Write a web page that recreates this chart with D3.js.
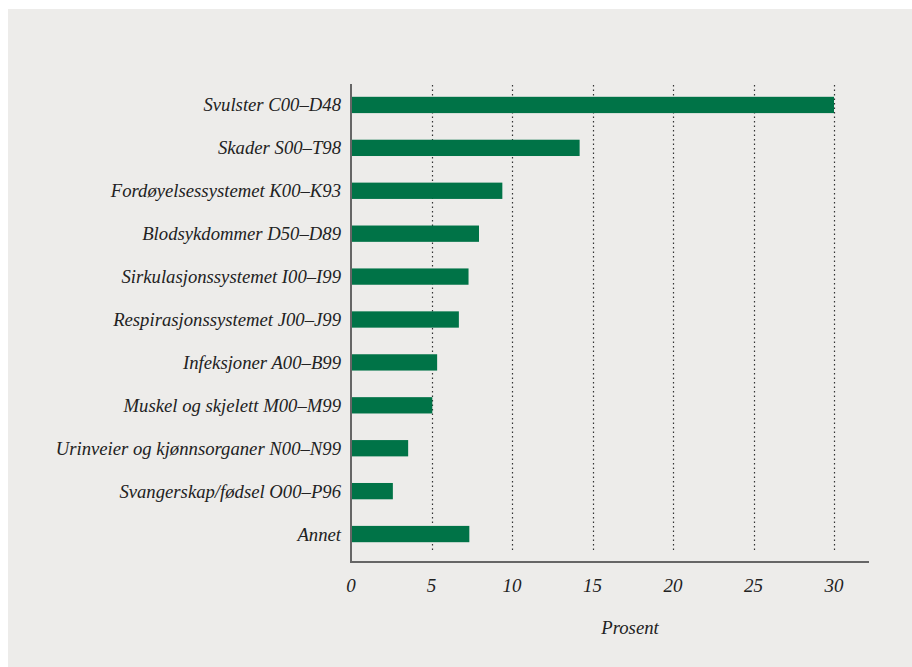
<!DOCTYPE html>
<html>
<head>
<meta charset="utf-8">
<script src="https://cdn.jsdelivr.net/npm/d3@7"></script>
<style>
  body { margin: 0; background: #ffffff; }
  svg text { font-family: "Liberation Serif", "DejaVu Serif", serif; font-style: italic; fill: #222; }
</style>
</head>
<body>
<svg id="chart" width="912" height="667"></svg>
<script>
// categories and values (percent)
const categories = [
  'Svulster C00–D48',
  'Skader S00–T98',
  'Fordøyelsessystemet K00–K93',
  'Blodsykdommer D50–D89',
  'Sirkulasjonssystemet I00–I99',
  'Respirasjonssystemet J00–J99',
  'Infeksjoner A00–B99',
  'Muskel og skjelett M00–M99',
  'Urinveier og kjønnsorganer N00–N99',
  'Svangerskap/fødsel O00–P96',
  'Annet'
];
const values = [30, 14.2, 9.4, 7.95, 7.3, 6.7, 5.35, 5.05, 3.55, 2.6, 7.35];
const xTicks = [0, 5, 10, 15, 20, 25, 30];
const xTitle = 'Prosent';

const svg = d3.select('svg#chart');

// panel background
svg.append('rect')
  .attr('x', 8)
  .attr('y', 9)
  .attr('width', 904)
  .attr('height', 658)
  .attr('fill', '#edecea');

const plotLeft = 351;
const plotTop = 84;
const plotBottom = 562;

const x = d3.scaleLinear().domain([0, 30]).range([plotLeft, 834]);
const y = d3.scaleBand().domain(categories).range([83.5, 555.5]).paddingInner(0.62).paddingOuter(0.31);

// dotted gridlines
svg.selectAll('line.grid')
  .data(xTicks.slice(1))
  .enter()
  .append('line')
  .attr('class', 'grid')
  .attr('x1', (d) => Math.round(x(d)) + 0.5)
  .attr('x2', (d) => Math.round(x(d)) + 0.5)
  .attr('y1', plotTop + 1)
  .attr('y2', 552)
  .attr('stroke', '#333')
  .attr('stroke-width', 1.2)
  .attr('stroke-dasharray', '1.5,3');

// bars
svg.selectAll('rect.bar')
  .data(values)
  .enter()
  .append('rect')
  .attr('class', 'bar')
  .attr('x', plotLeft)
  .attr('y', (d, i) => y(categories[i]))
  .attr('height', y.bandwidth())
  .attr('width', (d) => x(d) - plotLeft)
  .attr('fill', '#007347');

// category labels
svg.selectAll('text.cat')
  .data(categories)
  .enter()
  .append('text')
  .attr('class', 'cat')
  .attr('x', 341)
  .attr('y', (d) => y(d) + y.bandwidth() / 2)
  .attr('dy', '0.35em')
  .attr('text-anchor', 'end')
  .attr('font-size', '18.7px')
  .text((d) => d);

// axis lines
svg.append('line')
  .attr('x1', plotLeft).attr('x2', plotLeft)
  .attr('y1', plotTop).attr('y2', plotBottom)
  .attr('stroke', '#666').attr('stroke-width', 2);
svg.append('line')
  .attr('x1', plotLeft - 1).attr('x2', 869)
  .attr('y1', plotBottom).attr('y2', plotBottom)
  .attr('stroke', '#666').attr('stroke-width', 2);

// tick labels
svg.selectAll('text.tick')
  .data(xTicks)
  .enter()
  .append('text')
  .attr('class', 'tick')
  .attr('x', (d) => x(d))
  .attr('y', 592)
  .attr('text-anchor', 'middle')
  .attr('font-size', '19px')
  .text((d) => d);

// axis title
svg.append('text')
  .attr('x', 630)
  .attr('y', 634)
  .attr('text-anchor', 'middle')
  .attr('font-size', '18.7px')
  .text(xTitle);
</script>
</body>
</html>
